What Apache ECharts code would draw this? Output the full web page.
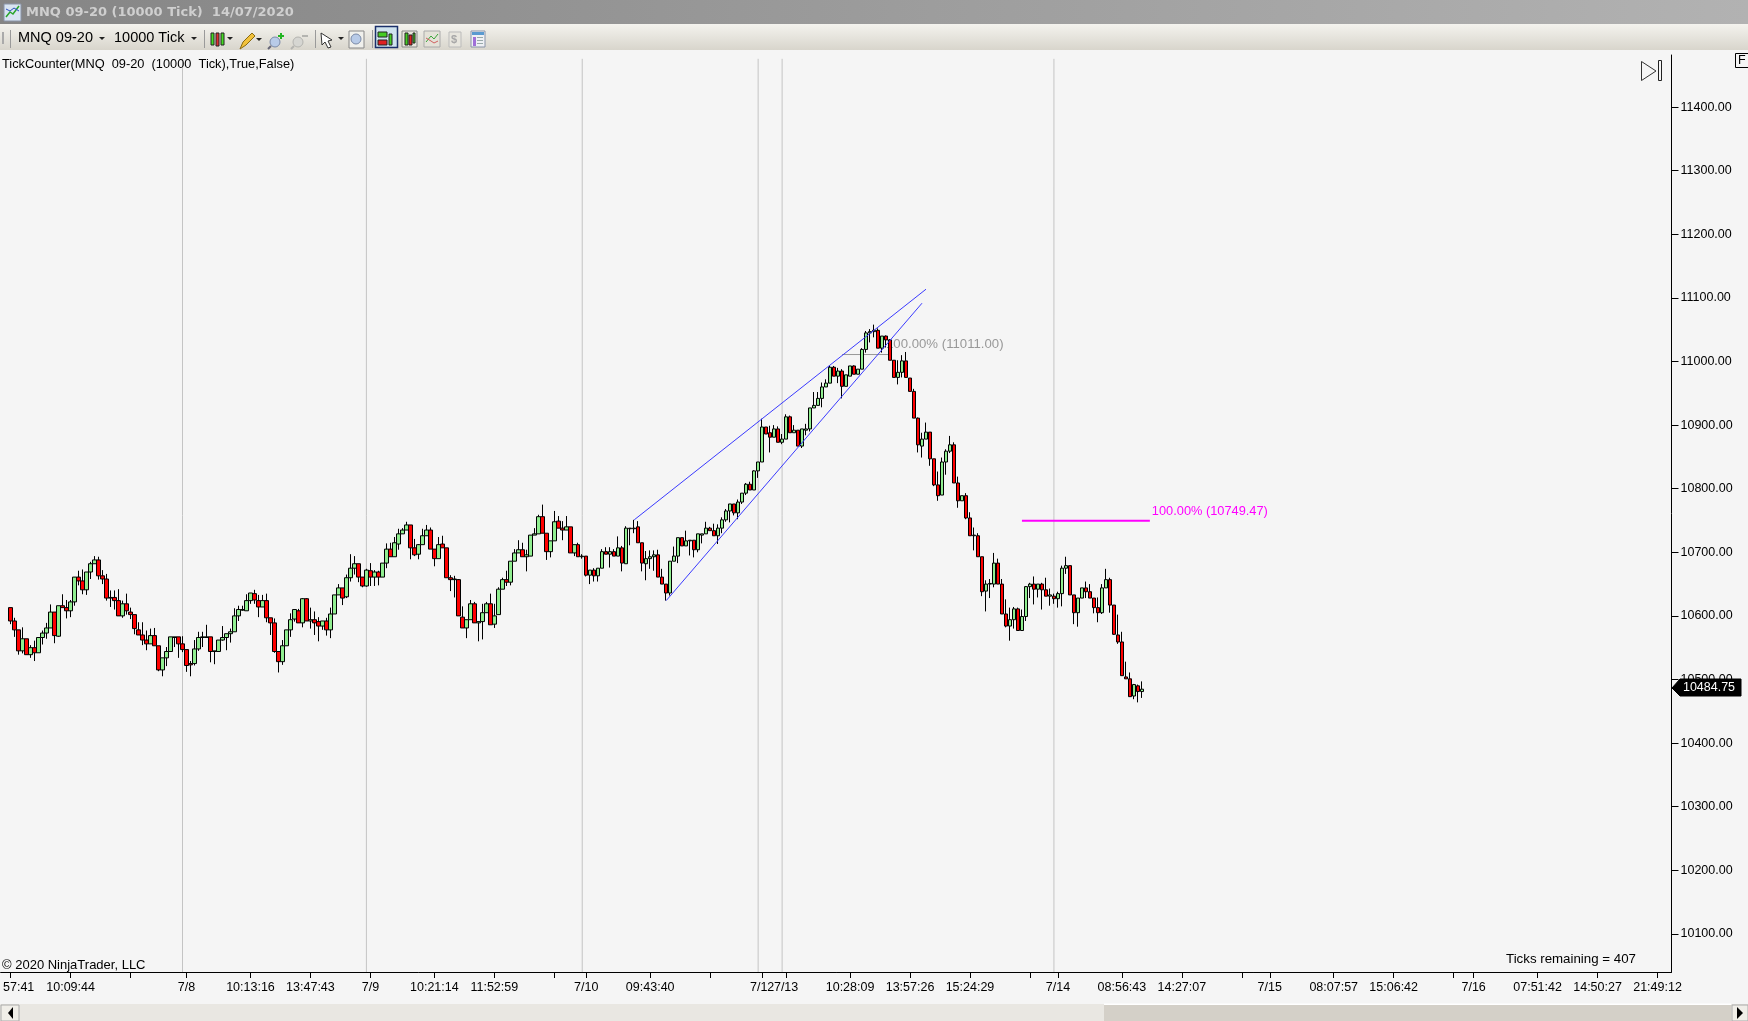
<!DOCTYPE html>
<html>
<head>
<meta charset="utf-8">
<style>html,body{margin:0;padding:0;background:#f5f5f5;overflow:hidden}#c{width:1748px;height:1021px}</style>
<script src="https://cdn.jsdelivr.net/npm/echarts@6/dist/echarts.min.js"></script>
</head>
<body>
<div id="c"></div>
<script>
const opens=[10613,10592,10578,10545,10564,10539,10550,10542,10566,10573,
10581,10606,10568,10616,10613,10608,10622,10661,10655,10641,
10669,10682,10688,10663,10658,10628,10629,10624,10600,10619,
10606,10602,10578,10570,10562,10556,10569,10553,10515,10534,
10544,10566,10567,10556,10547,10525,10525,10548,10566,10566,
10567,10544,10544,10562,10566,10572,10575,10600,10609,10608,
10624,10635,10624,10614,10624,10597,10589,10544,10528,10553,
10578,10595,10608,10589,10627,10592,10594,10591,10584,10592,
10578,10603,10633,10644,10630,10660,10675,10682,10661,10647,
10671,10661,10669,10661,10683,10705,10693,10713,10729,10735,
10743,10707,10697,10712,10726,10735,10705,10690,10713,10707,
10660,10657,10657,10598,10581,10594,10619,10589,10591,10605,
10619,10587,10602,10642,10657,10653,10686,10699,10704,10693,
10694,10727,10729,10756,10730,10701,10718,10749,10738,10735,
10740,10699,10712,10693,10694,10664,10672,10663,10675,10701,
10697,10701,10694,10707,10682,10737,10737,10740,10715,10682,
10690,10693,10696,10661,10650,10636,10686,10694,10723,10710,
10718,10719,10704,10727,10729,10738,10734,10726,10738,10751,
10765,10776,10762,10779,10793,10807,10798,10828,10842,10897,
10888,10881,10894,10873,10878,10913,10888,10892,10867,10892,
10894,10927,10931,10942,10960,10966,10991,10977,10985,10961,
10977,10993,10980,10988,11019,11045,11047,11049,11021,11040,
11034,11002,10975,10983,11001,10974,10953,10911,10867,10878,
10889,10847,10806,10790,10842,10859,10869,10809,10781,10789,
10754,10726,10726,10693,10639,10650,10650,10683,10650,10603,
10584,10594,10611,10577,10599,10646,10650,10642,10650,10641,
10631,10631,10627,10635,10675,10679,10633,10605,10628,10644,
10638,10628,10613,10605,10644,10657,10617,10570,10559,10504,
10501,10474,10490,10481];
const closes=[10592,10578,10545,10564,10539,10550,10542,10566,10573,10581,
10606,10569,10616,10613,10608,10622,10661,10655,10641,10669,
10682,10688,10663,10658,10628,10629,10624,10600,10619,10608,
10602,10580,10570,10562,10556,10569,10553,10515,10534,10544,
10567,10567,10556,10547,10522,10523,10548,10566,10567,10567,
10544,10545,10562,10566,10572,10575,10600,10610,10610,10624,
10636,10625,10614,10624,10597,10589,10544,10528,10553,10578,
10594,10610,10589,10627,10592,10594,10589,10584,10592,10578,
10603,10633,10644,10628,10660,10675,10682,10661,10647,10672,
10661,10669,10661,10683,10705,10693,10715,10729,10735,10743,
10707,10696,10712,10726,10735,10705,10690,10712,10707,10660,
10657,10658,10600,10581,10594,10619,10589,10591,10605,10619,
10586,10600,10642,10657,10653,10686,10699,10704,10693,10696,
10727,10729,10756,10730,10701,10718,10748,10738,10735,10740,
10699,10712,10693,10694,10664,10672,10663,10675,10701,10697,
10701,10694,10707,10683,10738,10738,10738,10715,10683,10690,
10693,10696,10661,10650,10636,10686,10694,10723,10710,10718,
10719,10704,10729,10729,10738,10734,10726,10738,10751,10765,
10776,10762,10779,10793,10807,10798,10828,10842,10897,10886,
10881,10894,10873,10878,10913,10888,10892,10867,10894,10894,
10927,10931,10942,10960,10966,10991,10977,10985,10961,10979,
10993,10980,10988,11019,11045,11047,11049,11021,11040,11034,
11002,10975,10983,11001,10975,10953,10911,10869,10878,10889,
10847,10806,10789,10842,10859,10869,10809,10781,10789,10754,
10726,10727,10693,10638,10650,10651,10683,10650,10603,10584,
10594,10611,10577,10599,10646,10650,10642,10650,10641,10631,
10633,10627,10635,10675,10679,10633,10605,10628,10644,10638,
10628,10613,10605,10644,10657,10617,10571,10559,10506,10501,
10473,10492,10481,10484.75];
const highs=[10613,10597,10578,10582,10564,10554,10561,10566,10577,10589,
10618,10606,10616,10634,10625,10625,10661,10671,10673,10669,
10685,10694,10693,10672,10666,10640,10640,10642,10624,10635,
10613,10602,10590,10590,10577,10580,10581,10553,10534,10551,
10567,10567,10567,10568,10547,10529,10562,10575,10575,10586,
10567,10545,10562,10584,10572,10580,10612,10616,10616,10634,
10636,10641,10633,10633,10635,10597,10596,10544,10562,10578,
10604,10610,10611,10628,10628,10613,10607,10598,10592,10597,
10613,10633,10650,10644,10665,10697,10694,10682,10661,10674,
10683,10672,10671,10683,10714,10715,10724,10737,10738,10748,
10743,10721,10713,10737,10743,10739,10705,10724,10726,10707,
10664,10663,10658,10615,10594,10625,10622,10591,10619,10622,
10635,10619,10645,10660,10671,10686,10705,10719,10715,10704,
10727,10738,10759,10775,10730,10718,10765,10757,10749,10757,
10740,10712,10715,10697,10694,10672,10675,10675,10705,10708,
10708,10705,10725,10710,10741,10738,10751,10749,10715,10702,
10703,10703,10704,10674,10650,10686,10709,10723,10723,10734,
10719,10719,10729,10729,10748,10740,10745,10744,10755,10768,
10776,10776,10783,10793,10809,10811,10829,10842,10910,10897,
10899,10900,10898,10886,10917,10915,10900,10892,10894,10902,
10927,10952,10952,10967,10972,10993,10993,10990,10988,10979,
10993,10994,10988,11021,11048,11051,11058,11052,11040,11041,
11035,11002,11002,11010,11015,10974,10957,10912,10888,10904,
10889,10847,10827,10849,10862,10883,10873,10819,10789,10793,
10763,10739,10730,10693,10656,10658,10699,10690,10658,10626,
10613,10614,10613,10610,10647,10652,10662,10650,10652,10660,
10643,10635,10638,10679,10693,10679,10633,10628,10644,10654,
10650,10628,10629,10650,10674,10660,10617,10602,10575,10528,
10511,10493,10492,10497];
const lows=[10587,10567,10539,10541,10539,10534,10529,10542,10555,10564,
10581,10557,10567,10613,10596,10598,10616,10648,10634,10633,
10658,10682,10657,10650,10624,10614,10610,10600,10597,10602,
10595,10571,10570,10554,10546,10556,10553,10513,10505,10521,
10544,10551,10534,10543,10512,10505,10522,10545,10551,10566,
10527,10524,10544,10561,10546,10558,10575,10592,10608,10608,
10619,10619,10598,10614,10590,10570,10542,10511,10523,10553,
10567,10591,10589,10582,10592,10580,10570,10560,10578,10569,
10565,10603,10633,10617,10628,10654,10665,10653,10645,10646,
10647,10647,10648,10661,10675,10693,10693,10704,10729,10735,
10689,10694,10689,10712,10726,10705,10678,10690,10707,10660,
10639,10629,10600,10581,10565,10594,10589,10560,10563,10605,
10586,10581,10602,10642,10647,10648,10686,10699,10693,10670,
10694,10727,10729,10730,10688,10692,10718,10738,10719,10735,
10699,10694,10693,10690,10662,10650,10654,10654,10675,10697,
10676,10694,10694,10670,10682,10711,10730,10715,10670,10656,
10674,10671,10661,10650,10624,10632,10686,10683,10710,10710,
10695,10692,10700,10714,10729,10734,10726,10713,10730,10748,
10747,10758,10752,10776,10790,10798,10798,10817,10842,10886,
10857,10881,10873,10870,10878,10888,10888,10867,10864,10884,
10890,10927,10931,10928,10960,10966,10977,10966,10942,10961,
10977,10980,10980,10988,11014,11030,11038,11021,11014,11022,
11002,10975,10964,10975,10975,10953,10911,10857,10849,10878,
10836,10804,10781,10790,10822,10856,10809,10770,10781,10752,
10726,10703,10693,10631,10607,10628,10645,10650,10603,10582,
10561,10580,10577,10577,10592,10628,10618,10629,10610,10631,
10616,10619,10613,10615,10666,10633,10587,10583,10628,10628,
10628,10604,10590,10603,10644,10605,10570,10556,10506,10501,
10473,10469,10464,10471];

const barSlots=418;
const leadingEmptySlots=2;
const tickSlots=[2,17,32,46,62,77,92,108,123,138,146,162,177,190,196,212,227,242,257,264,280,295,310,317,333,348,363,368,384,399,414];
const tickTexts=['57:41','10:09:44','','7/8','10:13:16','13:47:43','7/9','10:21:14','11:52:59','','7/10','09:43:40','','7/12','7/13','10:28:09','13:57:26','15:24:29','','7/14','08:56:43','14:27:07','','7/15','08:07:57','15:06:42','','7/16','07:51:42','14:50:27','21:49:12'];
const priceTicks=[10100,10200,10300,10400,10500,10600,10700,10800,10900,11000,11100,11200,11300,11400];
const sessionBreakSlots=[45,91,145,189,195,263];
const channelUpper=[[158,10751],[231,11113.7]];
const channelLower=[[166,10624],[230,11091.7]];
const fibGrey=[[210,11011],[222,11011]];
const fibMagenta=[[255,10749.47],[287,10749.47]];
const lastPrice=10484.75;

const FONT='"Liberation Sans"';
const categories=Array.from({length:barSlots},(_,i)=>String(i));
const tickMap=new Map(tickSlots.map((s,i)=>[s,tickTexts[i]]));
const candles=Array.from({length:leadingEmptySlots},()=>['-','-','-','-']).concat(opens.map((o,i)=>[o,closes[i],lows[i],highs[i]]));
const breakData=[];
sessionBreakSlots.forEach(s=>{breakData.push([s,11476],[s,10040],[s,'-']);});

const G=[];
const rect=(x,y,w,h,fill,stroke,extra)=>G.push(Object.assign({type:'rect',shape:{x,y,width:w,height:h},style:{fill:fill||'transparent',stroke:stroke||null,lineWidth:1},z:100,silent:true},extra||{}));
const txt=(x,y,s,font,color,extra)=>G.push({type:'text',x,y,z:110,silent:true,style:Object.assign({text:s,font:font,fill:color,textVerticalAlign:'middle',textAlign:'left'},extra||{})});
const poly=(pts,fill,stroke,w)=>G.push({type:'polygon',shape:{points:pts},style:{fill:fill||'transparent',stroke:stroke||null,lineWidth:w||1},z:105,silent:true});
const pline=(pts,stroke,w)=>G.push({type:'polyline',shape:{points:pts},style:{fill:null,stroke:stroke,lineWidth:w||1},z:105,silent:true});
const tri=(x,y)=>poly([[x,y],[x+6,y],[x+3,y+3]],'#222');

rect(0,0,1748,24,{type:'linear',x:0,y:0,x2:1,y2:0,colorStops:[{offset:0,color:'#858585'},{offset:1,color:'#b2b2b2'}]});
rect(4,4,17,17,'#d8e4f2','#8a94a8');
pline([[6,17],[10,12],[13,14],[19,6]],'#2aa52a',1.5);
pline([[6,9],[10,11],[14,8],[19,11]],'#2a4fc0',1);
txt(26,13,'MNQ 09-20 (10000 Tick)  14/07/2020','bold 13px "DejaVu Sans"','#cfcfcf');
rect(0,24,1748,26,{type:'linear',x:0,y:0,x2:0,y2:1,colorStops:[{offset:0,color:'#f4f3ee'},{offset:1,color:'#d8d5cc'}]});
rect(2,32,2,12,'#aaa');
rect(10,30,1,18,'#9a9a9a');
txt(18,38,'MNQ 09-20','14.5px '+FONT,'#000');
tri(99,37);
txt(114,38,'10000 Tick','14.5px '+FONT,'#000');
tri(191,37);
rect(204,30,1,18,'#9a9a9a');
rect(211,33,3,12,'#44dd22','#222');rect(216,33,3,13,'#e03030','#222');rect(221,33,3,12,'#44dd22','#222');
tri(227,37);
poly([[240,49],[243,42],[252,33],[255,36],[246,45]],'#f2c23c','#8a6a10');
tri(256,38);
G.push({type:'circle',shape:{cx:275,cy:42,r:5},style:{fill:'#b8cbe8',stroke:'#7a8aa8'},z:105,silent:true});
pline([[268,49],[271,46]],'#667',2);
pline([[281,33],[281,39]],'#22b522',2);pline([[278,36],[284,36]],'#22b522',2);
G.push({type:'circle',shape:{cx:298,cy:42,r:5},style:{fill:'#d6d6d2',stroke:'#b4b4b0'},z:105,silent:true});
pline([[291,49],[294,46]],'#b4b4b0',2);pline([[302,36],[308,36]],'#b4b4b0',2);
rect(315,30,1,18,'#9a9a9a');
poly([[321,33],[332,40],[328,41],[331,47],[328,48],[325,42],[322,45]],'#fff','#333');
tri(338,37);
rect(349,31,15,17,'#f0f0ec','#888');
G.push({type:'circle',shape:{cx:356,cy:39,r:5},style:{fill:'#b8cbe8',stroke:'#7a8aa8'},z:105,silent:true});
rect(372,30,1,18,'#9a9a9a');
rect(375.5,26.5,22,21,'#cfe3ee','#1a2f6a',{style:{fill:'#cfe3ee',stroke:'#1a2f6a',lineWidth:1.5}});
rect(378,32,9,5,'#44cc22','#222');rect(378,40,9,5,'#e02020','#222');rect(389,34,3,11,'#44cc22','#222');
rect(402,31,15,16,'#e8e6dc','#888');
rect(405,33,3,12,'#44cc22','#222');rect(409,35,3,10,'#e02020','#222');rect(413,33,2,10,'#44cc22','#222');
rect(424,31,16,16,'#e4e2d8','#aaa');
pline([[426,42],[431,36],[434,39],[438,34]],'#3aa53a',1);pline([[426,38],[431,41],[434,43],[438,41]],'#d06060',1);
rect(449,32,12,15,'#e8e6de','#bbb');
txt(451,40,'$','bold 11px '+FONT,'#a8a8a8');
rect(471,31,14,16,'#eef0f4','#8a94a8');
rect(472,32,12,3,'#5a9ad0');rect(473,37,3,9,'#a070d8');
for(let i=0;i<3;i++)rect(477,37+i*3,6,1,'#9aa');

txt(2,64,'TickCounter(MNQ  09-20  (10000  Tick),True,False)','12.8px '+FONT,'#000');
txt(2,965,'\u00a9 2020 NinjaTrader, LLC','13px '+FONT,'#000');
txt(1506,959,'Ticks remaining = 407','13.3px '+FONT,'#000');
poly([[1641.5,61.5],[1656,71],[1641.5,80.5]],'#f5f5f5','#333',1);
rect(1658.5,60.5,3,20,'#f5f5f5','#222');
rect(1735.5,53.5,13,14,'#f5f5f5','#000');
txt(1738,61,'F','12.5px '+FONT,'#000');
poly([[1672,688],[1680,679],[1741,679],[1741,696],[1680,696]],'#000','#000');
txt(1709,688,lastPrice.toFixed(2),'12.5px '+FONT,'#fff',{textAlign:'center'});
rect(0,1004,1748,17,'#e9e7e2');
rect(0,1002,1748,2,'#f5f5f5');
rect(1,1005,18,16,'#f0eee8','#aaa');
poly([[13,1007],[13,1019],[8,1013]],'#000');
rect(1104,1005,627,16,'#d4d0c8');
rect(1104,1003.5,627,1.5,'#ffffff');
rect(1732,1005,16,16,'#f0eee8','#aaa');
poly([[1737,1007],[1737,1019],[1743,1013]],'#000');

const option={
  animation:false,
  backgroundColor:'#f5f5f5',
  textStyle:{fontFamily:FONT},
  grid:{left:-0.5,top:55,width:1672,bottom:49,containLabel:false},
  xAxis:{
    type:'category',data:categories,boundaryGap:true,
    axisLine:{show:true,lineStyle:{color:'#000',width:1}},
    axisTick:{show:true,alignWithLabel:true,length:6,interval:(i)=>tickMap.has(i),lineStyle:{color:'#000',width:1}},
    axisLabel:{
      show:true,interval:(i)=>tickMap.has(i),hideOverlap:false,margin:9,
      color:'#000',fontSize:12.5,fontFamily:FONT,
      formatter:(v)=>{const t=tickMap.get(Number(v))||'';return Number(v)===tickSlots[0]?'{cut|'+t+'}':t;},
      rich:{cut:{padding:[0,0,0,16],fontSize:12.5,color:'#000',fontFamily:FONT}}
    },
    splitLine:{show:false}
  },
  yAxis:{
    type:'value',position:'right',min:10040,max:11482,scale:true,
    axisLine:{show:true,onZero:false,lineStyle:{color:'#000',width:1}},
    axisTick:{show:true,length:7,customValues:priceTicks,lineStyle:{color:'#000',width:1}},
    axisLabel:{show:true,customValues:priceTicks,margin:9,color:'#000',fontSize:12.5,fontFamily:FONT,formatter:(v)=>Number(v).toFixed(2)},
    splitLine:{show:false}
  },
  tooltip:{show:false},
  series:[
    {name:'Session breaks',type:'line',data:breakData,z:1,symbol:'none',silent:true,connectNulls:false,clip:true,lineStyle:{color:'#c4c4c4',width:1}},
    {name:'MNQ 09-20',type:'candlestick',data:candles,z:3,barWidth:4,large:false,progressive:0,silent:true,
      itemStyle:{color:'#90ee90',color0:'#ff0000',borderColor:'#000',borderColor0:'#000',borderColorDoji:'#000',borderWidth:1}},
    {name:'Fib grey',type:'line',data:fibGrey,z:2,symbol:'none',silent:true,lineStyle:{color:'#999999',width:1},
      endLabel:{show:true,formatter:'100.00% (11011.00)',color:'#999999',fontSize:13.2,fontFamily:FONT,distance:-4,offset:[0,-10]}},
    {name:'Channel upper',type:'line',data:channelUpper,z:4,symbol:'none',silent:true,lineStyle:{color:'#3a3aff',width:1}},
    {name:'Channel lower',type:'line',data:channelLower,z:4,symbol:'none',silent:true,lineStyle:{color:'#3a3aff',width:1}},
    {name:'Fib magenta',type:'line',data:fibMagenta,z:4,symbol:'none',silent:true,lineStyle:{color:'#ff00ff',width:2},
      endLabel:{show:true,formatter:'100.00% (10749.47)',color:'#ff00ff',fontSize:12.8,fontFamily:FONT,distance:2,offset:[0,-9]}}
  ],
  graphic:{elements:G}
};
const chart=echarts.init(document.getElementById('c'),null,{renderer:'canvas',width:1748,height:1021});
chart.setOption(option);
</script>
</body>
</html>
